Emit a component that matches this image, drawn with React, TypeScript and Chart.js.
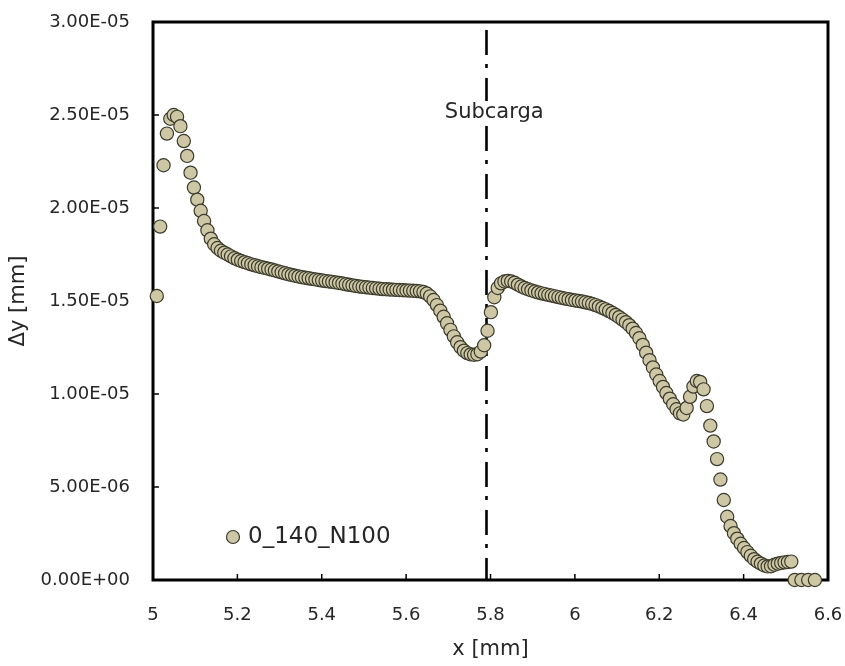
import React, { useEffect, useRef } from "react";
import { Chart, registerables } from "chart.js";

Chart.register(...registerables);

// ---- data ----
const xValues: number[] = [
  5.009, 5.017, 5.025, 5.033, 5.041, 5.049, 5.057, 5.065, 5.073, 5.081,
  5.089, 5.097, 5.105, 5.113, 5.121, 5.129, 5.137, 5.145, 5.153, 5.161,
  5.169, 5.177, 5.185, 5.193, 5.201, 5.209, 5.217, 5.225, 5.233, 5.241,
  5.249, 5.257, 5.265, 5.273, 5.281, 5.289, 5.297, 5.305, 5.313, 5.321,
  5.329, 5.337, 5.345, 5.353, 5.361, 5.369, 5.377, 5.385, 5.393, 5.401,
  5.409, 5.417, 5.425, 5.433, 5.441, 5.449, 5.457, 5.465, 5.473, 5.481,
  5.489, 5.497, 5.505, 5.513, 5.521, 5.529, 5.537, 5.545, 5.553, 5.561,
  5.569, 5.577, 5.585, 5.593, 5.601, 5.609, 5.617, 5.625, 5.633, 5.641,
  5.649, 5.657, 5.665, 5.673, 5.681, 5.689, 5.697, 5.705, 5.713, 5.721,
  5.729, 5.737, 5.745, 5.753, 5.761, 5.769, 5.777, 5.785, 5.793, 5.801,
  5.809, 5.817, 5.825, 5.833, 5.841, 5.849, 5.857, 5.865, 5.873, 5.881,
  5.889, 5.897, 5.905, 5.913, 5.921, 5.929, 5.937, 5.945, 5.953, 5.961,
  5.969, 5.977, 5.985, 5.993, 6.001, 6.009, 6.017, 6.025, 6.033, 6.041,
  6.049, 6.057, 6.065, 6.073, 6.081, 6.089, 6.097, 6.105, 6.113, 6.121,
  6.129, 6.137, 6.145, 6.153, 6.161, 6.169, 6.177, 6.185, 6.193, 6.201,
  6.209, 6.217, 6.225, 6.233, 6.241, 6.249, 6.257, 6.265, 6.273, 6.281,
  6.289, 6.297, 6.305, 6.313, 6.321, 6.329, 6.337, 6.345, 6.353, 6.361,
  6.369, 6.377, 6.385, 6.393, 6.401, 6.409, 6.417, 6.425, 6.433, 6.441,
  6.449, 6.457, 6.465, 6.473, 6.481, 6.489, 6.497, 6.505, 6.513,
  6.521, 6.537, 6.553, 6.569,
];

// Δy in units of 1e-5 mm
const dyE5: number[] = [
  1.527, 1.90, 2.23, 2.40, 2.48, 2.50, 2.49, 2.44, 2.36, 2.28,
  2.19, 2.11, 2.045, 1.985, 1.93, 1.88, 1.835, 1.805, 1.785, 1.77,
  1.76, 1.75, 1.74, 1.73, 1.722, 1.715, 1.709, 1.703, 1.697, 1.692,
  1.687, 1.682, 1.678, 1.674, 1.669, 1.664, 1.659, 1.654, 1.649, 1.644,
  1.640, 1.636, 1.632, 1.628, 1.625, 1.622, 1.619, 1.616, 1.613, 1.610,
  1.607, 1.605, 1.603, 1.600, 1.597, 1.594, 1.590, 1.587, 1.584, 1.581,
  1.578, 1.576, 1.574, 1.572, 1.570, 1.568, 1.566, 1.564, 1.563, 1.562,
  1.561, 1.560, 1.559, 1.558, 1.557, 1.556, 1.555, 1.554, 1.552, 1.548,
  1.540, 1.525, 1.505, 1.478, 1.448, 1.415, 1.380, 1.345, 1.310, 1.278,
  1.252, 1.233, 1.220, 1.213, 1.211, 1.214, 1.228, 1.262, 1.340, 1.440,
  1.520, 1.570, 1.595, 1.605, 1.608, 1.605, 1.598, 1.588, 1.578, 1.570,
  1.563, 1.557, 1.551, 1.546, 1.541, 1.537, 1.533, 1.529, 1.525, 1.521,
  1.517, 1.513, 1.510, 1.506, 1.503, 1.500, 1.497, 1.493, 1.489, 1.484,
  1.478, 1.471, 1.463, 1.455, 1.446, 1.436, 1.425, 1.413, 1.400, 1.386,
  1.370, 1.351, 1.328, 1.300, 1.264, 1.222, 1.182, 1.143, 1.105, 1.070,
  1.038, 1.005, 0.975, 0.945, 0.918, 0.896, 0.890, 0.925, 0.985, 1.040,
  1.070, 1.065, 1.025, 0.935, 0.830, 0.745, 0.650, 0.540, 0.430, 0.340,
  0.290, 0.252, 0.222, 0.195, 0.172, 0.150, 0.130, 0.112, 0.098, 0.088,
  0.078, 0.073, 0.074, 0.082, 0.088, 0.092, 0.095, 0.097, 0.099,
  0, 0, 0, 0,
];

const seriesLabel = "0_140_N100";
const subcargaX = 5.79;
const subcargaLabel = "Subcarga";
const xTitle = "x [mm]";
const yTitle = "Δy [mm]";
const xMin = 5;
const xMax = 6.6;
const xStep = 0.2;
const yMin = 0;
const yMax = 3e-5;
const yStep = 5e-6;

// ---- styling ----
const FONT = '"DejaVu Sans", sans-serif';
const TEXT = "#262626";
const POINT_FILL = "#CDC7A6";
const POINT_BORDER = "#3C3B2B";

function fmtExp(v: number): string {
  const s = v.toExponential(2);
  const [m, e] = s.split("e");
  const sign = e[0] === "-" ? "-" : "+";
  const digits = e.replace(/^[+-]/, "").padStart(2, "0");
  return `${m}E${sign}${digits}`;
}

function zeroPadding(s: any) {
  s.paddingLeft = 0;
  s.paddingRight = 0;
  s.paddingTop = 0;
  s.paddingBottom = 0;
}

const overlay = {
  id: "overlay",
  beforeDatasetsDraw(chart: any) {
    const { ctx, chartArea: a, scales } = chart;
    const x = scales.x;
    const y = scales.y;
    ctx.save();
    // dash-dot vertical marker (under the points)
    const lx = Math.round(x.getPixelForValue(subcargaX)) + 0.5;
    ctx.strokeStyle = "#000";
    ctx.lineWidth = 2.6;
    ctx.setLineDash([25, 9, 4, 10]);
    ctx.lineDashOffset = -8;
    ctx.beginPath();
    ctx.moveTo(lx, a.top);
    ctx.lineTo(lx, a.bottom);
    ctx.stroke();
    ctx.setLineDash([]);
    // inner tick marks
    ctx.lineWidth = 1.5;
    x.ticks.forEach((t: any) => {
      const px = x.getPixelForValue(t.value);
      ctx.beginPath();
      ctx.moveTo(px, a.bottom);
      ctx.lineTo(px, a.bottom - 6);
      ctx.stroke();
    });
    y.ticks.forEach((t: any) => {
      const py = y.getPixelForValue(t.value);
      ctx.beginPath();
      ctx.moveTo(a.left, py);
      ctx.lineTo(a.left + 6, py);
      ctx.stroke();
    });
    // frame
    ctx.lineWidth = 3;
    ctx.strokeRect(a.left, a.top, a.right - a.left, a.bottom - a.top);
    ctx.restore();
  },
  afterDatasetsDraw(chart: any) {
    const { ctx, chartArea: a, scales } = chart;
    const x = scales.x;
    ctx.save();
    // Subcarga label with white box
    ctx.font = `21px ${FONT}`;
    const lx = x.getPixelForValue(subcargaX);
    const tw = ctx.measureText(subcargaLabel).width;
    const cx = lx + 8;
    const cy = a.top + 91;
    ctx.fillStyle = "#fff";
    ctx.fillRect(cx - tw / 2 - 2, cy - 12, tw + 4, 24);
    ctx.fillStyle = TEXT;
    ctx.textAlign = "center";
    ctx.textBaseline = "middle";
    ctx.fillText(subcargaLabel, cx, cy);

    // legend
    const legX = a.left + 80;
    const legY = a.bottom - 43;
    ctx.beginPath();
    ctx.arc(legX, legY, 6.5, 0, Math.PI * 2);
    ctx.fillStyle = POINT_FILL;
    ctx.fill();
    ctx.lineWidth = 1.2;
    ctx.strokeStyle = POINT_BORDER;
    ctx.stroke();
    ctx.font = `23px ${FONT}`;
    ctx.fillStyle = TEXT;
    ctx.textAlign = "left";
    ctx.textBaseline = "middle";
    ctx.fillText(seriesLabel, legX + 15, legY);

    // axis titles
    ctx.font = `21px ${FONT}`;
    ctx.textAlign = "center";
    ctx.textBaseline = "middle";
    ctx.fillText(xTitle, (a.left + a.right) / 2, 650);
    ctx.translate(19, (a.top + a.bottom) / 2);
    ctx.rotate(-Math.PI / 2);
    ctx.fillText(yTitle, 0, 0);
    ctx.restore();
  },
};

export default function App() {
  const ref = useRef<HTMLCanvasElement | null>(null);

  useEffect(() => {
    if (!ref.current) return;
    const points = xValues.map((xv, i) => ({ x: xv, y: dyE5[i] * 1e-5 }));
    const chart = new Chart(ref.current, {
      type: "scatter",
      data: {
        datasets: [
          {
            label: seriesLabel,
            data: points,
            showLine: false,
            pointRadius: 6.6,
            pointBorderWidth: 1.2,
            pointBackgroundColor: POINT_FILL,
            pointBorderColor: POINT_BORDER,
            backgroundColor: POINT_FILL,
            borderColor: POINT_BORDER,
            clip: false as any,
          },
        ],
      },
      options: {
        animation: false,
        responsive: false,
        devicePixelRatio: 1,
        events: [],
        layout: { padding: { top: 22, right: 17, left: 0, bottom: 0 } },
        plugins: {
          legend: { display: false },
          tooltip: { enabled: false },
          title: { display: false },
        },
        scales: {
          x: {
            type: "linear",
            min: xMin,
            max: xMax,
            grid: { display: false, drawTicks: false },
            border: { display: false },
            ticks: {
              stepSize: xStep,
              padding: 25,
              color: TEXT,
              font: { family: FONT, size: 18 },
              maxRotation: 0,
              autoSkip: false,
              callback: (v: any) => String(parseFloat(Number(v).toFixed(1))),
            },
            afterFit: (s: any) => {
              s.height = 86;
              zeroPadding(s);
            },
          },
          y: {
            type: "linear",
            min: yMin,
            max: yMax,
            grid: { display: false, drawTicks: false },
            border: { display: false },
            ticks: {
              stepSize: yStep,
              padding: 23,
              color: TEXT,
              font: { family: FONT, size: 18 },
              autoSkip: false,
              callback: (v: any) => fmtExp(Number(v)),
            },
            afterFit: (s: any) => {
              s.width = 153;
              zeroPadding(s);
            },
          },
        },
      },
      plugins: [overlay],
    });
    return () => chart.destroy();
  }, []);

  return (
    <div
      style={{
        position: "fixed",
        left: 0,
        top: 0,
        width: 845,
        height: 666,
        background: "#fff",
      }}
    >
      <canvas
        ref={ref}
        width={845}
        height={666}
        style={{ display: "block", width: 845, height: 666 }}
      />
    </div>
  );
}
